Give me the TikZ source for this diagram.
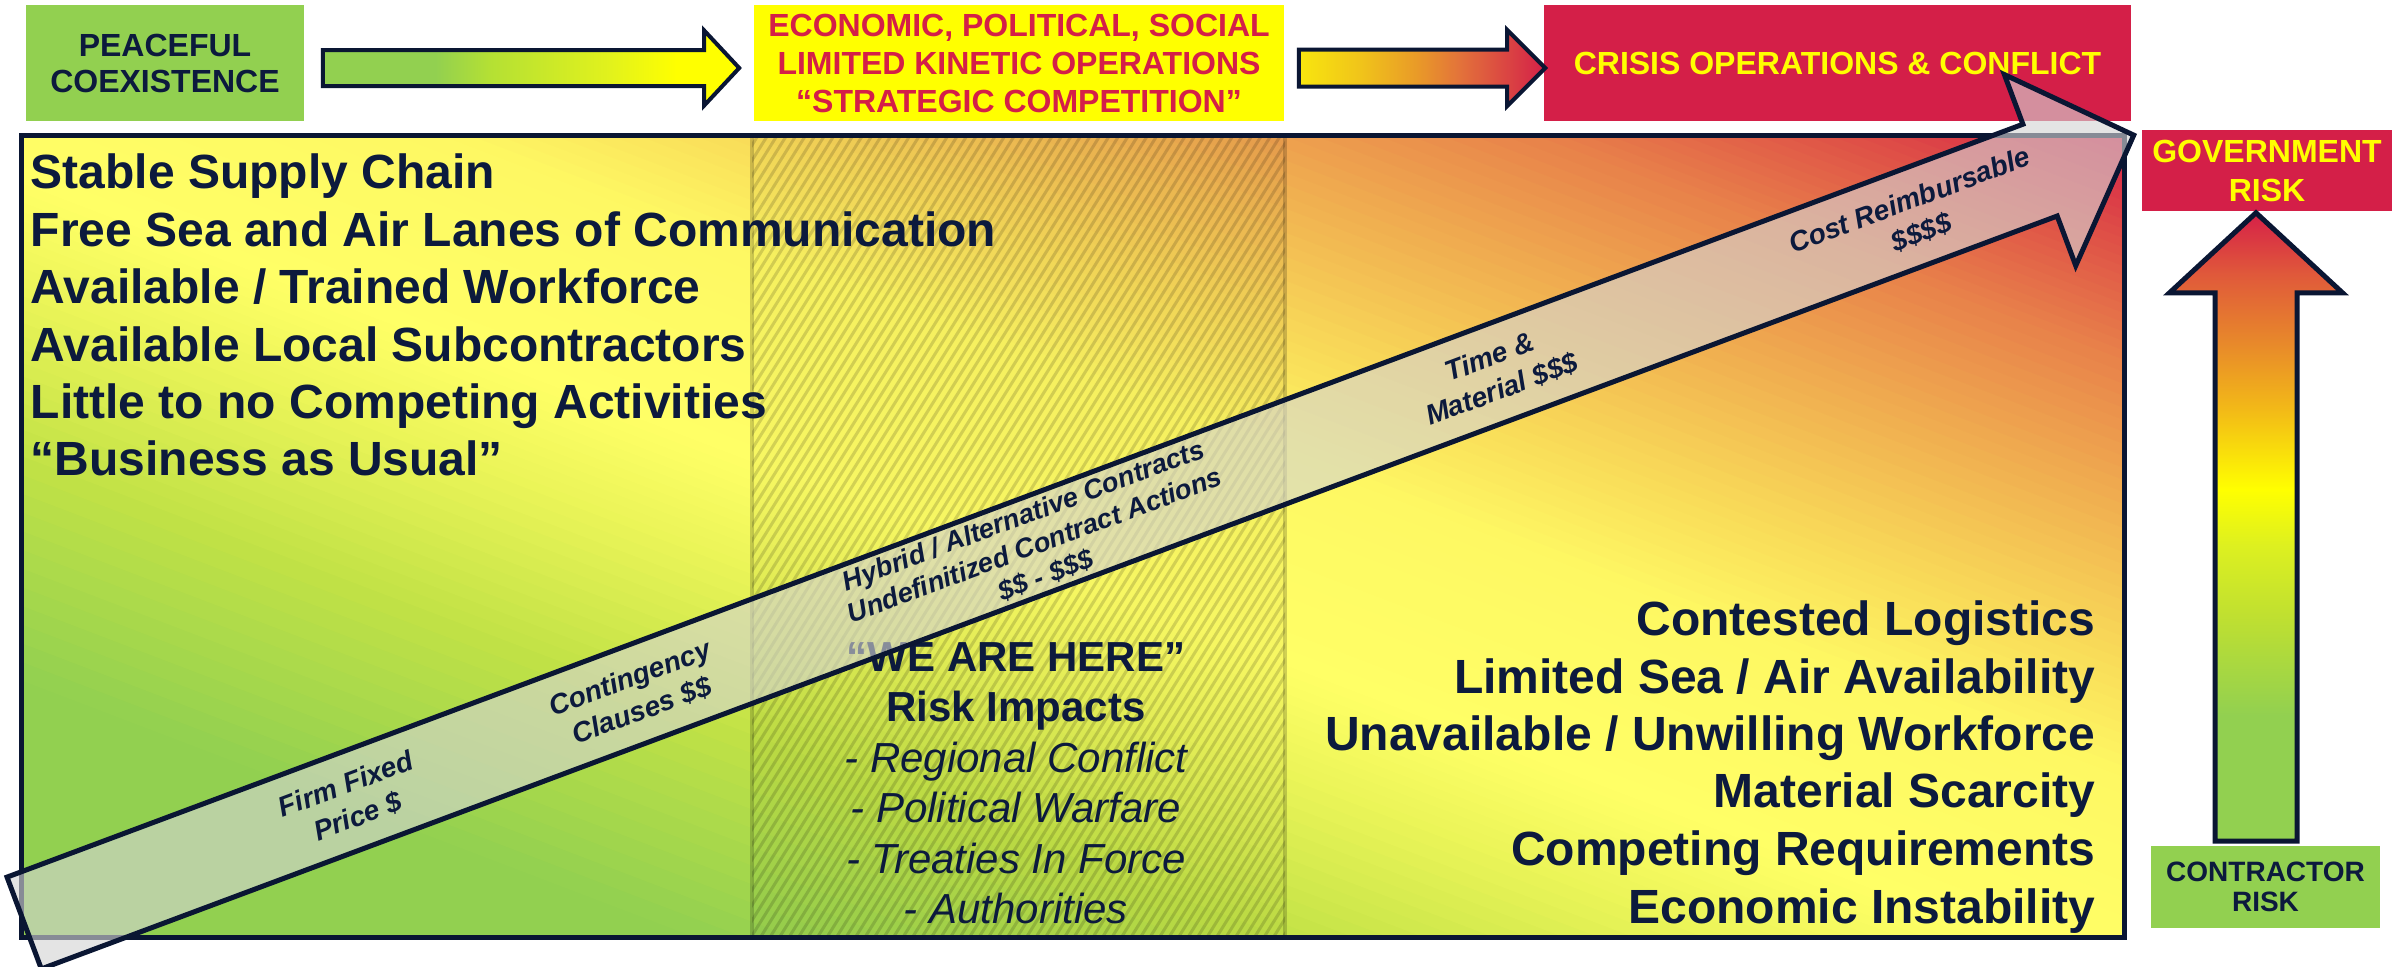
\documentclass[tikz,border=0pt]{standalone}
\usepackage{fontspec}
\setmainfont{Liberation Sans}
\usetikzlibrary{calc}

\definecolor{navy}{HTML}{0A1633}
\definecolor{inktext}{HTML}{0C1A3D}
\definecolor{crimson}{HTML}{D41F48}
\definecolor{leafgreen}{HTML}{92D050}
\definecolor{brightyellow}{HTML}{FFFF00}
\definecolor{ribbon}{HTML}{D4D4D4}

% colour stops of the field: green -> yellow -> red along the diagonal
\definecolor{fA}{HTML}{92D050}
\definecolor{fB}{HTML}{C2E246}
\definecolor{fC}{HTML}{EAF458}
\definecolor{fD}{HTML}{FFFF66}
\definecolor{fE}{HTML}{FEF863}
\definecolor{fF}{HTML}{F8D858}
\definecolor{fG}{HTML}{F0AE50}
\definecolor{fH}{HTML}{E8824A}
\definecolor{fI}{HTML}{DF5247}
\definecolor{fJ}{HTML}{D62048}

% first block arrow: green -> yellow
\definecolor{aB}{HTML}{B4E034}
\definecolor{aC}{HTML}{E2F21C}
\pgfdeclarehorizontalshading{arrowone}{100bp}{%
  color(0bp)=(leafgreen); color(38.5bp)=(leafgreen); color(45bp)=(aB);
  color(59.5bp)=(aC); color(67.5bp)=(brightyellow); color(100bp)=(brightyellow)}

% second block arrow: yellow -> red
\definecolor{bA}{HTML}{F8E60E}
\definecolor{bB}{HTML}{F0C41A}
\definecolor{bC}{HTML}{E99A28}
\definecolor{bD}{HTML}{E3733A}
\definecolor{bE}{HTML}{DB4842}
\definecolor{bF}{HTML}{D42048}
\pgfdeclarehorizontalshading{arrowtwo}{100bp}{%
  color(0bp)=(bA); color(25bp)=(bA); color(37.5bp)=(bB); color(49bp)=(bC);
  color(57.5bp)=(bD); color(66.5bp)=(bE); color(75bp)=(bF); color(100bp)=(bF)}

% vertical risk arrow: green (bottom) -> red (top)
\definecolor{vB}{HTML}{C0E030}
\definecolor{vC}{HTML}{DDF020}
\definecolor{vD}{HTML}{F2B818}
\definecolor{vE}{HTML}{E88A2A}
\definecolor{vF}{HTML}{E05A3A}
\pgfdeclareverticalshading{riskshade}{100bp}{%
  color(0bp)=(leafgreen); color(35bp)=(leafgreen); color(43bp)=(vB);
  color(48.5bp)=(vC); color(53bp)=(brightyellow); color(59.5bp)=(vD);
  color(64.5bp)=(vE); color(70bp)=(vF); color(75bp)=(fJ); color(100bp)=(fJ)}

\begin{document}
\begin{tikzpicture}[x=0.25pt, y=-0.25pt,
  box/.style={inner sep=0pt, align=center},
  listline/.style={inner sep=0pt, text=inktext, font=\fontsize{12pt}{14pt}\selectfont\bfseries},
  herehead/.style={inner sep=0pt, anchor=base, text=inktext, font=\fontsize{10.5pt}{12pt}\selectfont\bfseries},
  impact/.style={inner sep=0pt, anchor=base, text=inktext, font=\fontsize{10.5pt}{12pt}\selectfont\itshape},
  ribbonlabel/.style={sloped, inner sep=0pt, align=center, text=inktext, font=\fontsize{7pt}{8.6pt}\selectfont\bfseries\itshape},
  outline/.style={draw=navy, line width=1pt, line join=miter},
]
\useasboundingbox (0,0) rectangle (2402,966);
\fill[white] (0,0) rectangle (2402,966);

% ---------- graded field: strips of constant colour along u+v ----------
\coordinate (fieldSW) at (21,937);
\coordinate (fieldNE) at (2124,135);
\begin{scope}
  \clip (fieldSW) rectangle (fieldNE);
  \foreach \ta/\tb/\ca/\cb in {0/0.16/fA/fA, 0.16/0.30/fA/fB, 0.30/0.40/fB/fC,
      0.40/0.47/fC/fD, 0.47/0.60/fD/fE, 0.60/0.68/fE/fF, 0.68/0.77/fF/fG,
      0.77/0.86/fG/fH, 0.86/0.93/fH/fI, 0.93/1.0/fI/fJ}{
    \foreach \j in {0,...,11}{
      \pgfmathsetmacro{\sa}{2*(\ta+(\tb-\ta)*\j/12)}
      \pgfmathsetmacro{\sb}{2*(\ta+(\tb-\ta)*(\j+1)/12)+0.003}
      \pgfmathsetmacro{\pc}{100*(\j+0.5)/12}
      \fill[\cb!\pc!\ca] ({21+2103*(\sa+0.101)},1018) -- ({21+2103*(\sa-1.1)},55)
        -- ({21+2103*(\sb-1.1)},55) -- ({21+2103*(\sb+0.101)},1018) -- cycle;
    }
  }
\end{scope}

% ---------- hatched band ----------
\coordinate (bandSW) at (752,937);
\coordinate (bandNE) at (1285,135);
\begin{scope}
  \clip (bandSW) rectangle (bandNE);
  \fill[black, opacity=0.03] (bandSW) rectangle (bandNE);
  \foreach \k in {0,...,112}
    \draw[black, opacity=0.15, line width=0.75pt] ({230+9.5*\k},950) -- ++(510,-816);
\end{scope}
\draw[black, opacity=0.18, line width=0.8pt] (752,135) -- (752,937) (1285,135) -- (1285,937);

\draw[navy, line width=1.25pt] (fieldSW) rectangle (fieldNE);

% ---------- left list ----------
\node[listline, anchor=base west] (left1) at (30,188) {Stable Supply Chain};
\node[listline, anchor=base west] (left2) at (30,246) {Free Sea and Air Lanes of Communication};
\node[listline, anchor=base west] (left3) at (30,303) {Available / Trained Workforce};
\node[listline, anchor=base west] (left4) at (30,361) {Available Local Subcontractors};
\node[listline, anchor=base west] (left5) at (30,418) {Little to no Competing Activities};
\node[listline, anchor=base west] (left6) at (30,475) {“Business as Usual”};

% ---------- right list ----------
\node[listline, anchor=base east] (right1) at (2096,635) {Contested Logistics};
\node[listline, anchor=base east] (right2) at (2096,693) {Limited Sea / Air Availability};
\node[listline, anchor=base east] (right3) at (2096,750) {Unavailable / Unwilling Workforce};
\node[listline, anchor=base east] (right4) at (2096,807) {Material Scarcity};
\node[listline, anchor=base east] (right5) at (2096,865) {Competing Requirements};
\node[listline, anchor=base east] (right6) at (2096,923) {Economic Instability};

% ---------- centre list ----------
\node[herehead] (here) at (1016,671) {“WE ARE HERE”};
\node[herehead] (impacts) at (1016,721) {Risk Impacts};
\node[impact] (imp1) at (1016,772) {- Regional Conflict};
\node[impact] (imp2) at (1016,822) {- Political Warfare};
\node[impact] (imp3) at (1016,873) {- Treaties In Force};
\node[impact] (imp4) at (1016,923) {- Authorities};

% ---------- top row ----------
\node[box, fill=leafgreen, text=inktext, minimum width=69.5pt, minimum height=29pt,
      font=\fontsize{8pt}{9pt}\selectfont\bfseries] (peace) at (165,63) {PEACEFUL\\COEXISTENCE};
\node[box, fill=brightyellow, text=crimson, minimum width=132.5pt, minimum height=29pt,
      font=\fontsize{8pt}{9.5pt}\selectfont\bfseries] (econ) at (1019,63)
      {ECONOMIC, POLITICAL, SOCIAL\\LIMITED KINETIC OPERATIONS\\“STRATEGIC COMPETITION”};
\node[box, fill=crimson, text=brightyellow, minimum width=146.75pt, minimum height=29pt,
      font=\fontsize{8pt}{9.5pt}\selectfont\bfseries] (crisis) at (1837.5,63) {CRISIS OPERATIONS \& CONFLICT};

\coordinate (a1s) at ($(peace.east)+(18,5)$);
\coordinate (a1t) at ($(econ.west)+(-14,5)$);
\shadedraw[shading=arrowone, outline]
  ($(a1s)+(0,-18)$) -- ($(a1t)+(-35,-18)$) -- ($(a1t)+(-35,-37.5)$) -- (a1t)
  -- ($(a1t)+(-35,37.5)$) -- ($(a1t)+(-35,18)$) -- ($(a1s)+(0,18)$) -- cycle;

\coordinate (a2s) at ($(econ.east)+(14,5)$);
\coordinate (a2t) at ($(crisis.west)+(2,5)$);
\shadedraw[shading=arrowtwo, outline]
  ($(a2s)+(0,-18.5)$) -- ($(a2t)+(-38,-18.5)$) -- ($(a2t)+(-38,-38)$) -- (a2t)
  -- ($(a2t)+(-38,38)$) -- ($(a2t)+(-38,18.5)$) -- ($(a2s)+(0,18.5)$) -- cycle;

% ---------- risk scale on the right ----------
\node[box, fill=crimson, text=brightyellow, minimum width=62.5pt, minimum height=20.25pt,
      font=\fontsize{8pt}{9.75pt}\selectfont\bfseries] (govrisk) at (2267,170.5) {GOVERNMENT\\RISK};
\node[box, fill=leafgreen, text=inktext, minimum width=57.25pt, minimum height=20.5pt,
      font=\fontsize{7pt}{7.5pt}\selectfont\bfseries] (conrisk) at (2265.5,887) {CONTRACTOR\\RISK};

\coordinate (vb) at ($(conrisk.north)+(-9.5,-4)$);
\coordinate (vt) at ($(govrisk.south)+(-11,1)$);
\shadedraw[shading=riskshade, draw=navy, line width=1.25pt, line join=miter]
  ($(vb)+(-41,0)$) -- ($(vt)+(-41,80)$) -- ($(vt)+(-86.5,80)$) -- (vt)
  -- ($(vt)+(86.5,80)$) -- ($(vt)+(41,80)$) -- ($(vb)+(41,0)$) -- cycle;

% ---------- contract-type ribbon ----------
\coordinate (dtail) at (24.2,923);
\coordinate (dtip) at (2134,135);
\begin{scope}[shift={(dtail)}, rotate=20.48]
  \filldraw[fill=ribbon, fill opacity=0.62, draw=navy, line width=1.25pt, line join=miter]
    (0,49) -- (2152,49) -- (2152,102) -- (2252,0) -- (2152,-102) -- (2152,-49) -- (0,-49) -- cycle;
\end{scope}

\path (dtail) -- (dtip)
  node[ribbonlabel, pos=0.1554] (firm) {Firm Fixed\\Price \$}
  node[ribbonlabel, pos=0.29] (conting) {Contingency\\Clauses \$\$}
  node[ribbonlabel, pos=0.479, font=\fontsize{6.8pt}{8pt}\selectfont\bfseries\itshape] (hybrid)
      {Hybrid / Alternative Contracts\\Undefinitized Contract Actions\\\$\$ - \$\$\$}
  node[ribbonlabel, pos=0.6976] (tandm) {Time \&\\Material \$\$\$}
  node[ribbonlabel, pos=0.8965] (costr) {Cost Reimbursable\\\$\$\$\$};
\end{tikzpicture}
\end{document}
